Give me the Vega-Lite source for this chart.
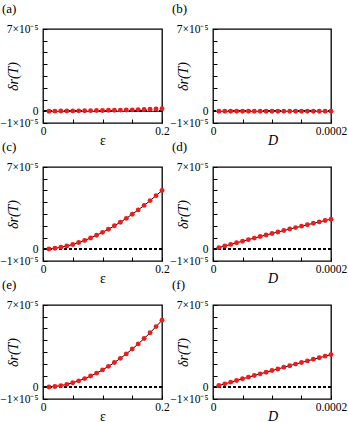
{
  "$schema": "https://vega.github.io/schema/vega-lite/v6.json",
  "padding": {"left": -1, "top": 2, "right": 0, "bottom": 0},
  "columns": 2,
  "spacing": {"row": 44, "column": 51},
  "bounds": "flush",
  "datasets": {
    "a": [
      {"x": 0, "th": 0},
      {"x": 0.01, "th": 0, "sim": 5e-8}, {"x": 0.02, "th": 0, "sim": 1e-7}, {"x": 0.03, "th": 0, "sim": 1.5e-7}, {"x": 0.04, "th": 0, "sim": 2e-7},
      {"x": 0.05, "th": 0, "sim": 3e-7}, {"x": 0.06, "th": 0, "sim": 3.5e-7}, {"x": 0.07, "th": 0, "sim": 4.5e-7}, {"x": 0.08, "th": 0, "sim": 5e-7},
      {"x": 0.09, "th": 0, "sim": 6e-7}, {"x": 0.10, "th": 0, "sim": 7e-7}, {"x": 0.11, "th": 0, "sim": 8e-7}, {"x": 0.12, "th": 0, "sim": 9e-7},
      {"x": 0.13, "th": 0, "sim": 1.0e-6}, {"x": 0.14, "th": 0, "sim": 1.1e-6}, {"x": 0.15, "th": 0, "sim": 1.2e-6}, {"x": 0.16, "th": 0, "sim": 1.4e-6},
      {"x": 0.17, "th": 0, "sim": 1.5e-6}, {"x": 0.18, "th": 0, "sim": 1.7e-6}, {"x": 0.19, "th": 0, "sim": 1.9e-6}, {"x": 0.20, "th": 0, "sim": 2.2e-6}
    ],
    "b": [
      {"x": 0, "th": 0},
      {"x": 0.00001, "th": 0, "sim": 0}, {"x": 0.00002, "th": 0, "sim": 0}, {"x": 0.00003, "th": 0, "sim": 0}, {"x": 0.00004, "th": 0, "sim": 0},
      {"x": 0.00005, "th": 0, "sim": 0}, {"x": 0.00006, "th": 0, "sim": 0}, {"x": 0.00007, "th": 0, "sim": 0}, {"x": 0.00008, "th": 0, "sim": 0},
      {"x": 0.00009, "th": 0, "sim": 0}, {"x": 0.00010, "th": 0, "sim": 0}, {"x": 0.00011, "th": 0, "sim": 0}, {"x": 0.00012, "th": 0, "sim": 0},
      {"x": 0.00013, "th": 0, "sim": 0}, {"x": 0.00014, "th": 0, "sim": 0}, {"x": 0.00015, "th": 0, "sim": 0}, {"x": 0.00016, "th": 0, "sim": 0},
      {"x": 0.00017, "th": 0, "sim": 0}, {"x": 0.00018, "th": 0, "sim": 0}, {"x": 0.00019, "th": 0, "sim": 0}, {"x": 0.00020, "th": 0, "sim": 0}
    ],
    "c": [
      {"x": 0, "th": 0},
      {"x": 0.01, "th": 2.3e-7, "sim": 2.3e-7}, {"x": 0.02, "th": 7.9e-7, "sim": 7.9e-7}, {"x": 0.03, "th": 1.64e-6, "sim": 1.64e-6}, {"x": 0.04, "th": 2.76e-6, "sim": 2.76e-6},
      {"x": 0.05, "th": 4.1e-6, "sim": 4.1e-6}, {"x": 0.06, "th": 5.7e-6, "sim": 5.7e-6}, {"x": 0.07, "th": 7.55e-6, "sim": 7.55e-6}, {"x": 0.08, "th": 9.6e-6, "sim": 9.6e-6},
      {"x": 0.09, "th": 1.19e-5, "sim": 1.19e-5}, {"x": 0.10, "th": 1.44e-5, "sim": 1.44e-5}, {"x": 0.11, "th": 1.70e-5, "sim": 1.70e-5}, {"x": 0.12, "th": 2.00e-5, "sim": 2.00e-5},
      {"x": 0.13, "th": 2.30e-5, "sim": 2.30e-5}, {"x": 0.14, "th": 2.63e-5, "sim": 2.63e-5}, {"x": 0.15, "th": 2.98e-5, "sim": 2.98e-5}, {"x": 0.16, "th": 3.35e-5, "sim": 3.35e-5},
      {"x": 0.17, "th": 3.73e-5, "sim": 3.73e-5}, {"x": 0.18, "th": 4.14e-5, "sim": 4.14e-5}, {"x": 0.19, "th": 4.56e-5, "sim": 4.56e-5}, {"x": 0.20, "th": 5.0e-5, "sim": 5.0e-5}
    ],
    "d": [
      {"x": 0, "th": 0},
      {"x": 0.00001, "th": 1.394e-6, "sim": 1.394e-6}, {"x": 0.00002, "th": 2.776e-6, "sim": 2.776e-6}, {"x": 0.00003, "th": 4.146e-6, "sim": 4.146e-6}, {"x": 0.00004, "th": 5.504e-6, "sim": 5.504e-6},
      {"x": 0.00005, "th": 6.85e-6, "sim": 6.85e-6}, {"x": 0.00006, "th": 8.184e-6, "sim": 8.184e-6}, {"x": 0.00007, "th": 9.506e-6, "sim": 9.506e-6}, {"x": 0.00008, "th": 1.0816e-5, "sim": 1.0816e-5},
      {"x": 0.00009, "th": 1.2114e-5, "sim": 1.2114e-5}, {"x": 0.00010, "th": 1.34e-5, "sim": 1.34e-5}, {"x": 0.00011, "th": 1.4674e-5, "sim": 1.4674e-5}, {"x": 0.00012, "th": 1.5936e-5, "sim": 1.5936e-5},
      {"x": 0.00013, "th": 1.7186e-5, "sim": 1.7186e-5}, {"x": 0.00014, "th": 1.8424e-5, "sim": 1.8424e-5}, {"x": 0.00015, "th": 1.965e-5, "sim": 1.965e-5}, {"x": 0.00016, "th": 2.0864e-5, "sim": 2.0864e-5},
      {"x": 0.00017, "th": 2.2066e-5, "sim": 2.2066e-5}, {"x": 0.00018, "th": 2.3256e-5, "sim": 2.3256e-5}, {"x": 0.00019, "th": 2.4434e-5, "sim": 2.4434e-5}, {"x": 0.00020, "th": 2.56e-5, "sim": 2.56e-5}
    ],
    "e": [
      {"x": 0, "th": 0},
      {"x": 0.01, "th": 1.7e-7, "sim": 1.7e-7}, {"x": 0.02, "th": 6.4e-7, "sim": 6.4e-7}, {"x": 0.03, "th": 1.41e-6, "sim": 1.41e-6}, {"x": 0.04, "th": 2.47e-6, "sim": 2.47e-6},
      {"x": 0.05, "th": 3.82e-6, "sim": 3.82e-6}, {"x": 0.06, "th": 5.45e-6, "sim": 5.45e-6}, {"x": 0.07, "th": 7.36e-6, "sim": 7.36e-6}, {"x": 0.08, "th": 9.55e-6, "sim": 9.55e-6},
      {"x": 0.09, "th": 1.20e-5, "sim": 1.20e-5}, {"x": 0.10, "th": 1.475e-5, "sim": 1.475e-5}, {"x": 0.11, "th": 1.777e-5, "sim": 1.777e-5}, {"x": 0.12, "th": 2.105e-5, "sim": 2.105e-5},
      {"x": 0.13, "th": 2.46e-5, "sim": 2.46e-5}, {"x": 0.14, "th": 2.84e-5, "sim": 2.84e-5}, {"x": 0.15, "th": 3.25e-5, "sim": 3.25e-5}, {"x": 0.16, "th": 3.69e-5, "sim": 3.69e-5},
      {"x": 0.17, "th": 4.15e-5, "sim": 4.15e-5}, {"x": 0.18, "th": 4.64e-5, "sim": 4.64e-5}, {"x": 0.19, "th": 5.16e-5, "sim": 5.16e-5}, {"x": 0.20, "th": 5.7e-5, "sim": 5.7e-5}
    ],
    "f": [
      {"x": 0, "th": 0},
      {"x": 0.00001, "th": 1.447e-6, "sim": 1.447e-6}, {"x": 0.00002, "th": 2.888e-6, "sim": 2.888e-6}, {"x": 0.00003, "th": 4.323e-6, "sim": 4.323e-6}, {"x": 0.00004, "th": 5.752e-6, "sim": 5.752e-6},
      {"x": 0.00005, "th": 7.175e-6, "sim": 7.175e-6}, {"x": 0.00006, "th": 8.592e-6, "sim": 8.592e-6}, {"x": 0.00007, "th": 1.0003e-5, "sim": 1.0003e-5}, {"x": 0.00008, "th": 1.1408e-5, "sim": 1.1408e-5},
      {"x": 0.00009, "th": 1.2807e-5, "sim": 1.2807e-5}, {"x": 0.00010, "th": 1.42e-5, "sim": 1.42e-5}, {"x": 0.00011, "th": 1.5587e-5, "sim": 1.5587e-5}, {"x": 0.00012, "th": 1.6968e-5, "sim": 1.6968e-5},
      {"x": 0.00013, "th": 1.8343e-5, "sim": 1.8343e-5}, {"x": 0.00014, "th": 1.9712e-5, "sim": 1.9712e-5}, {"x": 0.00015, "th": 2.1075e-5, "sim": 2.1075e-5}, {"x": 0.00016, "th": 2.2432e-5, "sim": 2.2432e-5},
      {"x": 0.00017, "th": 2.3783e-5, "sim": 2.3783e-5}, {"x": 0.00018, "th": 2.5128e-5, "sim": 2.5128e-5}, {"x": 0.00019, "th": 2.6467e-5, "sim": 2.6467e-5}, {"x": 0.00020, "th": 2.78e-5, "sim": 2.78e-5}
    ]
  },
  "concat": [
    {
      "title": "(a)", "width": 119, "height": 94, "data": {"name": "a"},
      "layer": [
        {"mark": {"type": "rule", "color": "black", "strokeDash": [3, 2], "strokeWidth": 0.8},
         "encoding": {"y": {"datum": 0, "type": "quantitative", "axis": {"title": "δr(T)", "format": "~g", "labelOverlap": false, "values": [-0.00001, 0, 0.00001, 0.00002, 0.00003, 0.00004, 0.00005, 0.00006, 0.00007], "labelExpr": "datum.value > 0.000069 ? '7×10⁻⁵' : datum.value < -0.000009 ? '−1×10⁻⁵' : datum.value < 0.000005 ? datum.label : ''"}}}},
        {"mark": {"type": "line", "color": "black", "strokeWidth": 1, "interpolate": "monotone"},
         "encoding": {
           "x": {"field": "x", "type": "quantitative", "scale": {"domain": [0, 0.2], "nice": false, "zero": false},
                 "axis": {"title": "ε", "format": "~g", "labelOverlap": false, "values": [0, 0.05, 0.1, 0.15, 0.2], "labelExpr": "datum.value < 0.01 || datum.value > 0.19 ? datum.label : ''"}},
           "y": {"field": "th", "type": "quantitative", "scale": {"domain": [-0.00001, 0.00007], "nice": false, "zero": false},
                 "axis": {"title": "δr(T)", "format": "~g", "labelOverlap": false, "values": [-0.00001, 0, 0.00001, 0.00002, 0.00003, 0.00004, 0.00005, 0.00006, 0.00007], "labelExpr": "datum.value > 0.000069 ? '7×10⁻⁵' : datum.value < -0.000009 ? '−1×10⁻⁵' : datum.value < 0.000005 ? datum.label : ''"}}
         }},
        {"transform": [{"filter": "isValid(datum.sim)"}], "mark": {"type": "circle", "color": "#ee1c1c", "size": 24, "opacity": 1},
         "encoding": {
           "x": {"field": "x", "type": "quantitative",
                 "axis": {"title": "ε", "format": "~g", "labelOverlap": false, "values": [0, 0.05, 0.1, 0.15, 0.2], "labelExpr": "datum.value < 0.01 || datum.value > 0.19 ? datum.label : ''"}},
           "y": {"field": "sim", "type": "quantitative",
                 "axis": {"title": "δr(T)", "format": "~g", "labelOverlap": false, "values": [-0.00001, 0, 0.00001, 0.00002, 0.00003, 0.00004, 0.00005, 0.00006, 0.00007], "labelExpr": "datum.value > 0.000069 ? '7×10⁻⁵' : datum.value < -0.000009 ? '−1×10⁻⁵' : datum.value < 0.000005 ? datum.label : ''"}}}}
      ]
    },
    {
      "title": "(b)", "width": 118, "height": 94, "data": {"name": "b"},
      "layer": [
        {"mark": {"type": "rule", "color": "black", "strokeDash": [3, 2], "strokeWidth": 0.8},
         "encoding": {"y": {"datum": 0, "type": "quantitative", "axis": {"title": "δr(T)", "format": "~g", "labelOverlap": false, "values": [-0.00001, 0, 0.00001, 0.00002, 0.00003, 0.00004, 0.00005, 0.00006, 0.00007], "labelExpr": "datum.value > 0.000069 ? '7×10⁻⁵' : datum.value < -0.000009 ? '−1×10⁻⁵' : datum.value < 0.000005 ? datum.label : ''"}}}},
        {"mark": {"type": "line", "color": "black", "strokeWidth": 1, "interpolate": "monotone"},
         "encoding": {
           "x": {"field": "x", "type": "quantitative", "scale": {"domain": [0, 0.0002], "nice": false, "zero": false},
                 "axis": {"title": "D", "titleFontStyle": "italic", "format": "~g", "labelOverlap": false, "values": [0, 0.00005, 0.0001, 0.00015, 0.0002], "labelExpr": "datum.value < 0.00001 ? datum.label : datum.value > 0.00019 ? '0.0002' : ''"}},
           "y": {"field": "th", "type": "quantitative", "scale": {"domain": [-0.00001, 0.00007], "nice": false, "zero": false},
                 "axis": {"title": "δr(T)", "format": "~g", "labelOverlap": false, "values": [-0.00001, 0, 0.00001, 0.00002, 0.00003, 0.00004, 0.00005, 0.00006, 0.00007], "labelExpr": "datum.value > 0.000069 ? '7×10⁻⁵' : datum.value < -0.000009 ? '−1×10⁻⁵' : datum.value < 0.000005 ? datum.label : ''"}}
         }},
        {"transform": [{"filter": "isValid(datum.sim)"}], "mark": {"type": "circle", "color": "#ee1c1c", "size": 24, "opacity": 1},
         "encoding": {
           "x": {"field": "x", "type": "quantitative",
                 "axis": {"title": "D", "titleFontStyle": "italic", "format": "~g", "labelOverlap": false, "values": [0, 0.00005, 0.0001, 0.00015, 0.0002], "labelExpr": "datum.value < 0.00001 ? datum.label : datum.value > 0.00019 ? '0.0002' : ''"}},
           "y": {"field": "sim", "type": "quantitative",
                 "axis": {"title": "δr(T)", "format": "~g", "labelOverlap": false, "values": [-0.00001, 0, 0.00001, 0.00002, 0.00003, 0.00004, 0.00005, 0.00006, 0.00007], "labelExpr": "datum.value > 0.000069 ? '7×10⁻⁵' : datum.value < -0.000009 ? '−1×10⁻⁵' : datum.value < 0.000005 ? datum.label : ''"}}}}
      ]
    },
    {
      "title": "(c)", "width": 119, "height": 94, "data": {"name": "c"},
      "layer": [
        {"mark": {"type": "rule", "color": "black", "strokeDash": [3, 2], "strokeWidth": 0.8},
         "encoding": {"y": {"datum": 0, "type": "quantitative", "axis": {"title": "δr(T)", "format": "~g", "labelOverlap": false, "values": [-0.00001, 0, 0.00001, 0.00002, 0.00003, 0.00004, 0.00005, 0.00006, 0.00007], "labelExpr": "datum.value > 0.000069 ? '7×10⁻⁵' : datum.value < -0.000009 ? '−1×10⁻⁵' : datum.value < 0.000005 ? datum.label : ''"}}}},
        {"mark": {"type": "line", "color": "black", "strokeWidth": 1, "interpolate": "monotone"},
         "encoding": {
           "x": {"field": "x", "type": "quantitative", "scale": {"domain": [0, 0.2], "nice": false, "zero": false},
                 "axis": {"title": "ε", "format": "~g", "labelOverlap": false, "values": [0, 0.05, 0.1, 0.15, 0.2], "labelExpr": "datum.value < 0.01 || datum.value > 0.19 ? datum.label : ''"}},
           "y": {"field": "th", "type": "quantitative", "scale": {"domain": [-0.00001, 0.00007], "nice": false, "zero": false},
                 "axis": {"title": "δr(T)", "format": "~g", "labelOverlap": false, "values": [-0.00001, 0, 0.00001, 0.00002, 0.00003, 0.00004, 0.00005, 0.00006, 0.00007], "labelExpr": "datum.value > 0.000069 ? '7×10⁻⁵' : datum.value < -0.000009 ? '−1×10⁻⁵' : datum.value < 0.000005 ? datum.label : ''"}}
         }},
        {"transform": [{"filter": "isValid(datum.sim)"}], "mark": {"type": "circle", "color": "#ee1c1c", "size": 24, "opacity": 1},
         "encoding": {
           "x": {"field": "x", "type": "quantitative",
                 "axis": {"title": "ε", "format": "~g", "labelOverlap": false, "values": [0, 0.05, 0.1, 0.15, 0.2], "labelExpr": "datum.value < 0.01 || datum.value > 0.19 ? datum.label : ''"}},
           "y": {"field": "sim", "type": "quantitative",
                 "axis": {"title": "δr(T)", "format": "~g", "labelOverlap": false, "values": [-0.00001, 0, 0.00001, 0.00002, 0.00003, 0.00004, 0.00005, 0.00006, 0.00007], "labelExpr": "datum.value > 0.000069 ? '7×10⁻⁵' : datum.value < -0.000009 ? '−1×10⁻⁵' : datum.value < 0.000005 ? datum.label : ''"}}}}
      ]
    },
    {
      "title": "(d)", "width": 118, "height": 94, "data": {"name": "d"},
      "layer": [
        {"mark": {"type": "rule", "color": "black", "strokeDash": [3, 2], "strokeWidth": 0.8},
         "encoding": {"y": {"datum": 0, "type": "quantitative", "axis": {"title": "δr(T)", "format": "~g", "labelOverlap": false, "values": [-0.00001, 0, 0.00001, 0.00002, 0.00003, 0.00004, 0.00005, 0.00006, 0.00007], "labelExpr": "datum.value > 0.000069 ? '7×10⁻⁵' : datum.value < -0.000009 ? '−1×10⁻⁵' : datum.value < 0.000005 ? datum.label : ''"}}}},
        {"mark": {"type": "line", "color": "black", "strokeWidth": 1, "interpolate": "monotone"},
         "encoding": {
           "x": {"field": "x", "type": "quantitative", "scale": {"domain": [0, 0.0002], "nice": false, "zero": false},
                 "axis": {"title": "D", "titleFontStyle": "italic", "format": "~g", "labelOverlap": false, "values": [0, 0.00005, 0.0001, 0.00015, 0.0002], "labelExpr": "datum.value < 0.00001 ? datum.label : datum.value > 0.00019 ? '0.0002' : ''"}},
           "y": {"field": "th", "type": "quantitative", "scale": {"domain": [-0.00001, 0.00007], "nice": false, "zero": false},
                 "axis": {"title": "δr(T)", "format": "~g", "labelOverlap": false, "values": [-0.00001, 0, 0.00001, 0.00002, 0.00003, 0.00004, 0.00005, 0.00006, 0.00007], "labelExpr": "datum.value > 0.000069 ? '7×10⁻⁵' : datum.value < -0.000009 ? '−1×10⁻⁵' : datum.value < 0.000005 ? datum.label : ''"}}
         }},
        {"transform": [{"filter": "isValid(datum.sim)"}], "mark": {"type": "circle", "color": "#ee1c1c", "size": 24, "opacity": 1},
         "encoding": {
           "x": {"field": "x", "type": "quantitative",
                 "axis": {"title": "D", "titleFontStyle": "italic", "format": "~g", "labelOverlap": false, "values": [0, 0.00005, 0.0001, 0.00015, 0.0002], "labelExpr": "datum.value < 0.00001 ? datum.label : datum.value > 0.00019 ? '0.0002' : ''"}},
           "y": {"field": "sim", "type": "quantitative",
                 "axis": {"title": "δr(T)", "format": "~g", "labelOverlap": false, "values": [-0.00001, 0, 0.00001, 0.00002, 0.00003, 0.00004, 0.00005, 0.00006, 0.00007], "labelExpr": "datum.value > 0.000069 ? '7×10⁻⁵' : datum.value < -0.000009 ? '−1×10⁻⁵' : datum.value < 0.000005 ? datum.label : ''"}}}}
      ]
    },
    {
      "title": "(e)", "width": 119, "height": 94, "data": {"name": "e"},
      "layer": [
        {"mark": {"type": "rule", "color": "black", "strokeDash": [3, 2], "strokeWidth": 0.8},
         "encoding": {"y": {"datum": 0, "type": "quantitative", "axis": {"title": "δr(T)", "format": "~g", "labelOverlap": false, "values": [-0.00001, 0, 0.00001, 0.00002, 0.00003, 0.00004, 0.00005, 0.00006, 0.00007], "labelExpr": "datum.value > 0.000069 ? '7×10⁻⁵' : datum.value < -0.000009 ? '−1×10⁻⁵' : datum.value < 0.000005 ? datum.label : ''"}}}},
        {"mark": {"type": "line", "color": "black", "strokeWidth": 1, "interpolate": "monotone"},
         "encoding": {
           "x": {"field": "x", "type": "quantitative", "scale": {"domain": [0, 0.2], "nice": false, "zero": false},
                 "axis": {"title": "ε", "format": "~g", "labelOverlap": false, "values": [0, 0.05, 0.1, 0.15, 0.2], "labelExpr": "datum.value < 0.01 || datum.value > 0.19 ? datum.label : ''"}},
           "y": {"field": "th", "type": "quantitative", "scale": {"domain": [-0.00001, 0.00007], "nice": false, "zero": false},
                 "axis": {"title": "δr(T)", "format": "~g", "labelOverlap": false, "values": [-0.00001, 0, 0.00001, 0.00002, 0.00003, 0.00004, 0.00005, 0.00006, 0.00007], "labelExpr": "datum.value > 0.000069 ? '7×10⁻⁵' : datum.value < -0.000009 ? '−1×10⁻⁵' : datum.value < 0.000005 ? datum.label : ''"}}
         }},
        {"transform": [{"filter": "isValid(datum.sim)"}], "mark": {"type": "circle", "color": "#ee1c1c", "size": 24, "opacity": 1},
         "encoding": {
           "x": {"field": "x", "type": "quantitative",
                 "axis": {"title": "ε", "format": "~g", "labelOverlap": false, "values": [0, 0.05, 0.1, 0.15, 0.2], "labelExpr": "datum.value < 0.01 || datum.value > 0.19 ? datum.label : ''"}},
           "y": {"field": "sim", "type": "quantitative",
                 "axis": {"title": "δr(T)", "format": "~g", "labelOverlap": false, "values": [-0.00001, 0, 0.00001, 0.00002, 0.00003, 0.00004, 0.00005, 0.00006, 0.00007], "labelExpr": "datum.value > 0.000069 ? '7×10⁻⁵' : datum.value < -0.000009 ? '−1×10⁻⁵' : datum.value < 0.000005 ? datum.label : ''"}}}}
      ]
    },
    {
      "title": "(f)", "width": 118, "height": 94, "data": {"name": "f"},
      "layer": [
        {"mark": {"type": "rule", "color": "black", "strokeDash": [3, 2], "strokeWidth": 0.8},
         "encoding": {"y": {"datum": 0, "type": "quantitative", "axis": {"title": "δr(T)", "format": "~g", "labelOverlap": false, "values": [-0.00001, 0, 0.00001, 0.00002, 0.00003, 0.00004, 0.00005, 0.00006, 0.00007], "labelExpr": "datum.value > 0.000069 ? '7×10⁻⁵' : datum.value < -0.000009 ? '−1×10⁻⁵' : datum.value < 0.000005 ? datum.label : ''"}}}},
        {"mark": {"type": "line", "color": "black", "strokeWidth": 1, "interpolate": "monotone"},
         "encoding": {
           "x": {"field": "x", "type": "quantitative", "scale": {"domain": [0, 0.0002], "nice": false, "zero": false},
                 "axis": {"title": "D", "titleFontStyle": "italic", "format": "~g", "labelOverlap": false, "values": [0, 0.00005, 0.0001, 0.00015, 0.0002], "labelExpr": "datum.value < 0.00001 ? datum.label : datum.value > 0.00019 ? '0.0002' : ''"}},
           "y": {"field": "th", "type": "quantitative", "scale": {"domain": [-0.00001, 0.00007], "nice": false, "zero": false},
                 "axis": {"title": "δr(T)", "format": "~g", "labelOverlap": false, "values": [-0.00001, 0, 0.00001, 0.00002, 0.00003, 0.00004, 0.00005, 0.00006, 0.00007], "labelExpr": "datum.value > 0.000069 ? '7×10⁻⁵' : datum.value < -0.000009 ? '−1×10⁻⁵' : datum.value < 0.000005 ? datum.label : ''"}}
         }},
        {"transform": [{"filter": "isValid(datum.sim)"}], "mark": {"type": "circle", "color": "#ee1c1c", "size": 24, "opacity": 1},
         "encoding": {
           "x": {"field": "x", "type": "quantitative",
                 "axis": {"title": "D", "titleFontStyle": "italic", "format": "~g", "labelOverlap": false, "values": [0, 0.00005, 0.0001, 0.00015, 0.0002], "labelExpr": "datum.value < 0.00001 ? datum.label : datum.value > 0.00019 ? '0.0002' : ''"}},
           "y": {"field": "sim", "type": "quantitative",
                 "axis": {"title": "δr(T)", "format": "~g", "labelOverlap": false, "values": [-0.00001, 0, 0.00001, 0.00002, 0.00003, 0.00004, 0.00005, 0.00006, 0.00007], "labelExpr": "datum.value > 0.000069 ? '7×10⁻⁵' : datum.value < -0.000009 ? '−1×10⁻⁵' : datum.value < 0.000005 ? datum.label : ''"}}}}
      ]
    }
  ],
  "config": {
    "font": "Liberation Serif",
    "background": "white",
    "view": {"stroke": "black", "strokeWidth": 1.3},
    "axis": {
      "domain": false, "grid": false, "ticks": true, "tickSize": -4, "tickColor": "black", "tickWidth": 1,
      "labelFont": "Liberation Serif", "labelFontSize": 12, "labelColor": "black", "labelOverlap": false, "labelFlush": false,
      "titleFont": "Liberation Serif", "titleFontSize": 14, "titleColor": "black", "titleFontWeight": "normal"
    },
    "axisX": {"labelPadding": 6, "labelFontSize": 11.5, "titleX": 59.5, "titleY": 17, "titleBaseline": "middle", "titleAlign": "center"},
    "axisY": {"labelPadding": 9, "labelFontSize": 11.5, "titleX": -30, "titleY": 47, "titleBaseline": "middle", "titleAlign": "center", "titleAngle": -90, "titleFontStyle": "italic"},
    "title": {"anchor": "start", "frame": "group", "fontSize": 13, "fontWeight": "normal", "font": "Liberation Serif", "color": "black", "dx": -41, "offset": 7}
  }
}
